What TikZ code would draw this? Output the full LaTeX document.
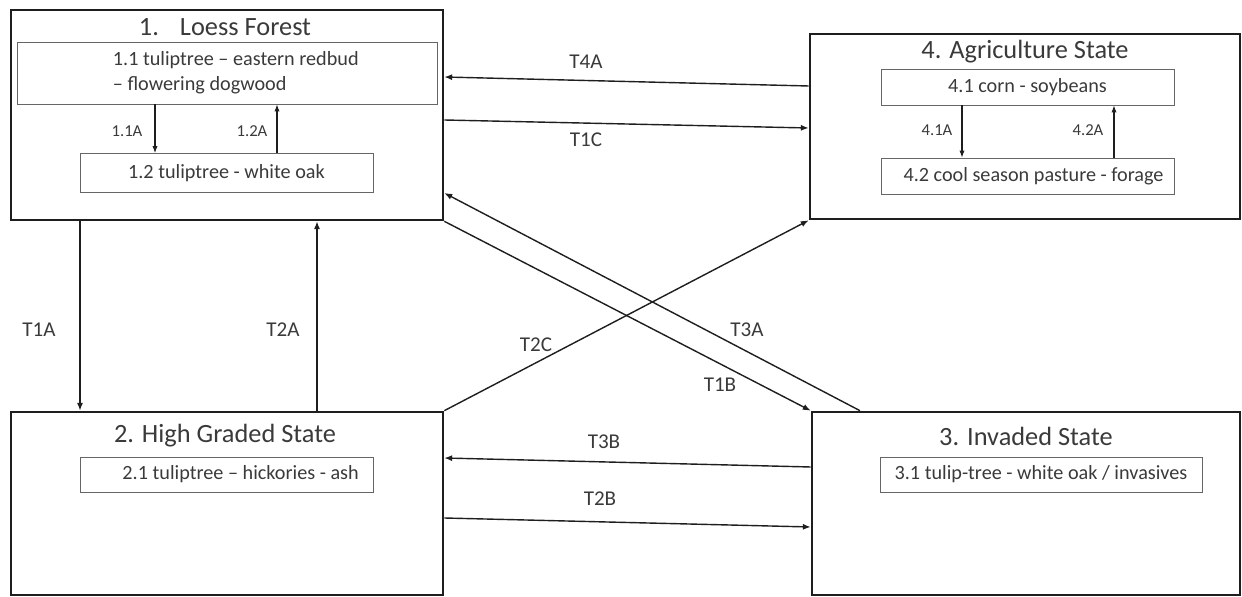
\documentclass[tikz,border=0pt]{standalone}
\usepackage{fontspec}
\setmainfont{Carlito}
\usetikzlibrary{positioning,arrows.meta,calc}
\definecolor{tinta}{HTML}{3A3A3A}
\definecolor{marco}{HTML}{1E1E1E}

\begin{document}
\begin{tikzpicture}[x=0.02cm,y=-0.02cm,
    estado/.style={draw=marco,line width=1.5pt,inner sep=0pt},
    fase/.style={draw=gray!80!black,line width=0.5pt,text=tinta,font=\fontsize{11.5}{14}\selectfont,inner sep=0pt},
    titulo/.style={text=tinta,font=\fontsize{15}{18}\selectfont},
    trans/.style={text=tinta,font=\fontsize{12}{14}\selectfont},
    subtrans/.style={text=tinta,font=\fontsize{9.5}{11}\selectfont},
    flecha/.style={draw=marco,line width=0.8pt,-{Latex[length=4.5pt,width=3.5pt]}},
    subflecha/.style={draw=marco,line width=0.6pt,-{Latex[length=4pt,width=3pt]}}]
        \useasboundingbox (0,0) rectangle (1242,597);
        % estados
        \node[estado,minimum width=8.64cm,minimum height=4.2cm] (s1) at (227,115) {};
        \node[estado,minimum width=8.6cm,minimum height=3.7cm] (s4) at (1025,126.5) {};
        \node[estado,minimum width=8.64cm,minimum height=3.66cm] (s2) at (227,503.5) {};
        \node[estado,minimum width=8.56cm,minimum height=3.66cm] (s3) at (1026,503.5) {};
        \node[titulo] (t1) at (225,27) {1.\hspace{0.8em}Loess Forest};
        \node[titulo] (t4) at (1025,52) {4. Agriculture State};
        \node[titulo] (t2) at (225,436) {2. High Graded State};
        \node[titulo] (t3) at (1026,436) {3. Invaded State};
        % fases
        \node[fase,minimum width=8.4cm,minimum height=1.24cm,align=left] (s11) at (227,73) {\hspace*{10pt}1.1 tuliptree -- eastern redbud\\\hspace*{10pt}-- flowering dogwood};
        \node[fase,minimum width=5.86cm,minimum height=0.78cm] (s12) at (226.5,173) {1.2 tuliptree - white oak};
        \node[fase,minimum width=5.86cm,minimum height=0.72cm] (s41) at (1027.5,87) {4.1 corn - soybeans};
        \node[fase,minimum width=5.86cm,minimum height=0.72cm] (s42) at (1027.5,176) {\hspace{0.6em}4.2 cool season pasture - forage};
        \node[fase,minimum width=5.86cm,minimum height=0.7cm] (s21) at (226.5,474.5) {\hspace{1.4em}2.1 tuliptree -- hickories - ash};
        \node[fase,minimum width=6.44cm,minimum height=0.7cm] (s31) at (1041,474.5) {3.1 tulip-tree - white oak / invasives\hspace{1.2em}};
        % transiciones internas
        \draw[subflecha] (s11.south -| 155,0) -- (s12.north -| 155,0);
        \draw[subflecha] (s12.north -| 277,0) -- (s11.south -| 277,0);
        \draw[subflecha] (s41.south -| 962,0) -- (s42.north -| 962,0);
        \draw[subflecha] (s42.north -| 1114,0) -- (s41.south -| 1114,0);
        \node[subtrans] (l11) at (127,131) {1.1A};
        \node[subtrans] (l12) at (252,131) {1.2A};
        \node[subtrans] (l41) at (937,130) {4.1A};
        \node[subtrans] (l42) at (1088,130) {4.2A};
        % transiciones entre estados
        \draw[flecha] (s4.west |- 0,86) -- (s1.east |- 0,77);
        \draw[flecha] (s1.east |- 0,120) -- (s4.west |- 0,128);
        \draw[flecha] (s3.north -| 860,0) -- (s1.east |- 0,193);
        \draw[flecha] (s1.south east) -- (s3.north west);
        \draw[flecha] (s2.north east) -- (s4.south west);
        \draw[flecha] (s1.south -| 80,0) -- (s2.north -| 80,0);
        \draw[flecha] (s2.north -| 317,0) -- (s1.south -| 317,0);
        \draw[flecha] (s3.west |- 0,467) -- (s2.east |- 0,458);
        \draw[flecha] (s2.east |- 0,518) -- (s3.west |- 0,527);
        \node[trans] (lT4A) at (586,62) {T4A};
        \node[trans] (lT1C) at (586,140) {T1C};
        \node[trans] (lT3A) at (747,330) {T3A};
        \node[trans] (lT1B) at (720,385) {T1B};
        \node[trans] (lT2C) at (536,345) {T2C};
        \node[trans] (lT1A) at (39,330) {T1A};
        \node[trans] (lT2A) at (283,330) {T2A};
        \node[trans] (lT3B) at (604,442) {T3B};
        \node[trans] (lT2B) at (600,499) {T2B};
      \end{tikzpicture}
\end{document}
